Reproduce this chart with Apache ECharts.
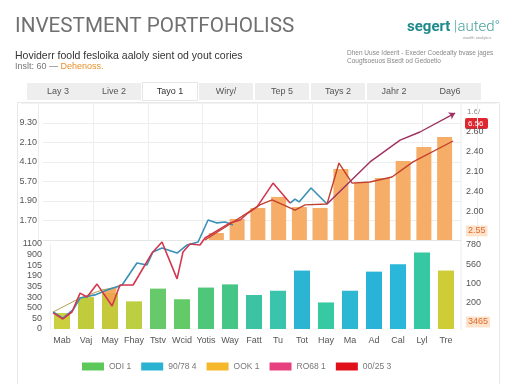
<!DOCTYPE html>
<html><head><meta charset="utf-8">
<script src="https://cdn.jsdelivr.net/npm/echarts@6/dist/echarts.min.js"></script>
<style>html,body{margin:0;padding:0;background:#fff}#c{width:512px;height:384px}</style>
</head><body><div id="c"></div>
<script>
// ---- data ----
const tabs = ['Lay 3','Live 2','Tayo 1','Wiry/','Tep 5','Tays 2','Jahr 2','Day6'];
const months = ['Mab','Vaj','May','Fhay','Tstv','Wcid','Yotis','Way','Fatt','Tu','Tot','Hay','Ma','Ad','Cal','Lyl','Tre'];
const lowerValues = [1.5,3.0,3.4,2.6,3.8,2.8,3.9,4.2,3.2,3.6,5.5,2.5,3.6,5.4,6.1,7.2,5.5];
const lowerColors = ['#cbd03e','#c0cc3c','#c6c93b','#bccf42','#66c96a','#62cb68','#4ec77b','#45c586','#3bc3a4','#39c4ab','#2bb5d3','#37c9a2','#2cb8d2','#29b3d8','#2bb7d9','#35c8a3','#cfcd37'];
const upperSlots = ['s1','s2','s3','s4','s5','s6','s7','s8','s9','s10','s11','s12'];
const upperValues = [0.36,1.08,1.64,2.21,1.69,1.64,3.64,2.97,3.18,4.05,4.77,5.28];
const upperLeftTicks = ['','1.70','1.90','5.70','4.10','2.10','9.30'];
const upperRightTicks = ['2.55','2.00','2.40','2.10','2.40','2.60'];
const lowerLeftTicks = ['0','50','500','300','305','190','105','900','1100'];
const lowerRightTicks = ['3465','200','100','560','780'];
const tealLine = [[0.13,8.0],[0.54,5.3],[0.96,8.9],[1.26,14.2],[1.88,15.6],[2.39,17.8],[3.02,20.0],[3.64,29.8],[4.06,28.9],[4.31,34.7],[4.69,36.4],[5.32,34.2],[5.74,37.8],[6.20,39.1],[6.62,48.9],[6.99,47.6],[7.33,48.0],[7.66,46.7],[8.5,'-'],[10.05,56.4],[10.26,58.2],[10.43,56.9],[10.93,63.1],[11.60,56.0]];
const crimsonLine = [[0.13,7.6],[0.54,4.9],[0.92,8.0],[1.26,16.4],[1.55,14.7],[1.97,20.4],[2.60,10.7],[2.93,20.0],[3.48,20.0],[4.27,34.2],[4.69,39.1],[5.32,22.7],[5.57,34.7],[5.86,38.2],[6.28,37.8],[6.49,40.9],[7.54,47.6],[7.96,48.9],[8.29,52.0],[8.67,54.7],[9.34,65.3],[10.05,56.4]];
const magentaLine = [[11.60,56.0],[13.40,74.7],[14.66,84.4],[15.49,88.0],[16.96,96.4]];
const brownLine = [[6.49,40.0],[7.54,47.1],[8.79,55.6],[9.30,57.8],[10.26,53.3],[10.68,55.6],[11.60,56.0],[12.10,74.2],[12.65,65.3],[13.40,65.8],[14.32,68.0],[15.20,74.7],[16.88,84.0]];
const oliveLine = [[0.13,8.0],[1.26,14.2],[2.18,17.8],[2.81,19.1],[3.02,20.0]];
const orangeArea = [[2.14,17.3],[2.81,19.1],[2.60,10.7]];
const legendNames = ['ODI 1','90/78 4','OOK 1','RO68 1','00/25 3'];
const legendColors = ['#5dc85a','#2ab3d0','#f5b82a','#e6407f','#e0101a'];

// ---- chart ----
const FONT = 'Liberation Sans';
const chart = echarts.init(document.getElementById('c'), null, {renderer:'canvas'});
const hiddenCat = (gi, data) => ({type:'category', gridIndex:gi, data:data, show:false});
const hiddenVal = (gi, min, max) => ({type:'value', gridIndex:gi, min:min, max:max, show:false});
const lbl = {fontFamily:FONT, fontSize:9, color:'#555'};

const option = {
  backgroundColor:'#ffffff',
  animation:false,
  grid:[
    {left:30, right:34, top:103, height:137},      // 0 tabs
    {left:38, right:35, top:103, height:137},      // 1 vertical split lines
    {left:43, right:51, top:123, bottom:144},      // 2 upper value axis
    {left:206, right:57, top:123, bottom:144},     // 3 upper bars
    {left:43, right:50, top:132, bottom:153},      // 4 upper right axis
    {left:50, right:54, top:244, bottom:55},       // 5 lower bars
    {left:43, right:50, top:245, bottom:62},       // 6 lower right axis
    {left:50, right:56, top:105, bottom:54}        // 7 overlay lines
  ],
  xAxis:[
    {type:'category', gridIndex:0, data:tabs, position:'top',
      axisLine:{show:false}, axisTick:{show:false}, splitLine:{show:false},
      axisLabel:{margin:3, interval:0,
        formatter:(v,i)=> i===2 ? '{a|'+v+'}' : ((i===0||i===7) ? '{w|'+v+'}' : '{n|'+v+'}'),
        rich:{
          n:{fontFamily:FONT, fontSize:9, color:'#555', backgroundColor:'#eeeeee', width:54, height:17, lineHeight:17, align:'center'},
          w:{fontFamily:FONT, fontSize:9, color:'#555', backgroundColor:'#eeeeee', width:62, height:17, lineHeight:17, align:'center'},
          a:{fontFamily:FONT, fontSize:9, color:'#333', backgroundColor:'#ffffff', borderColor:'#e6e6e6', borderWidth:1, width:54, height:17, lineHeight:17, align:'center'}
        }}},
    {type:'category', gridIndex:1, data:tabs, axisLine:{show:false}, axisTick:{show:false}, axisLabel:{show:false},
      splitLine:{show:true, interval:0, lineStyle:{color:'#eeeeee', width:1}}},
    {type:'category', gridIndex:2, data:upperSlots, axisTick:{show:false}, axisLabel:{show:false},
      axisLine:{show:true, lineStyle:{color:'#e6e6e6'}}},
    hiddenCat(3, upperSlots),
    hiddenCat(4, upperSlots),
    {type:'category', gridIndex:5, data:months, axisTick:{show:false}, axisLine:{show:false},
      axisLabel:Object.assign({margin:7, interval:0}, lbl)},
    hiddenCat(6, upperSlots),
    {type:'value', gridIndex:7, min:0, max:17, show:false}
  ],
  yAxis:[
    hiddenVal(0,0,1),
    hiddenVal(1,0,1),
    {type:'value', gridIndex:2, min:0, max:6, interval:1, axisLine:{show:false}, axisTick:{show:false},
      splitLine:{show:true, lineStyle:{color:'#ededed'}},
      axisLabel:Object.assign({margin:6, formatter:(v)=>upperLeftTicks[Math.round(v)]}, lbl)},
    hiddenVal(3,0,6),
    {type:'value', gridIndex:4, position:'right', min:0, max:5, interval:1, axisLine:{show:false}, axisTick:{show:false},
      splitLine:{show:false},
      axisLabel:Object.assign({margin:4, align:'left', formatter:(v)=>{const i=Math.round(v); return i===0 ? '{b|'+upperRightTicks[i]+'}' : upperRightTicks[i];},
        rich:{b:{fontFamily:FONT, fontSize:9, color:'#e06a2c', backgroundColor:'#fde2cc', padding:[1,2,1,2]}}}, lbl)},
    {type:'value', gridIndex:5, min:0, max:8, interval:1, axisLine:{show:true, lineStyle:{color:'#efefef'}}, axisTick:{show:false},
      splitLine:{show:false},
      axisLabel:Object.assign({margin:8, formatter:(v)=>lowerLeftTicks[Math.round(v)]}, lbl)},
    {type:'value', gridIndex:6, position:'right', min:0, max:4, interval:1, axisLine:{show:false}, axisTick:{show:false},
      splitLine:{show:false},
      axisLabel:Object.assign({margin:4, align:'left', formatter:(v)=>{const i=Math.round(v); return i===0 ? '{b|'+lowerRightTicks[i]+'}' : lowerRightTicks[i];},
        rich:{b:{fontFamily:FONT, fontSize:9, color:'#e06a2c', backgroundColor:'#fde2cc', padding:[1,2,1,2]}}}, lbl)},
    {type:'value', gridIndex:7, min:0, max:100, show:false}
  ],
  legend:{
    left:77, top:357, itemWidth:22, itemHeight:8, itemGap:10, icon:'rect',
    textStyle:{fontFamily:FONT, fontSize:8.5, color:'#777'},
    data: legendNames.map((n,i)=>({name:n, icon:'rect', itemStyle:{color:legendColors[i]}, lineStyle:{width:0}}))
  },
  series:[
    {name:'OOK 1', type:'bar', xAxisIndex:3, yAxisIndex:3, barWidth:15, itemStyle:{color:'#f5b82a'},
      data: upperValues.map(v=>({value:v, itemStyle:{color:'#f6ad68'}}))},
    {name:'ODI 1', type:'bar', xAxisIndex:5, yAxisIndex:5, barWidth:16, itemStyle:{color:'#5dc85a'},
      data: lowerValues.map((v,i)=>({value:v, itemStyle:{color:lowerColors[i]}}))},
    {type:'custom', xAxisIndex:7, yAxisIndex:7, z:4, data:orangeArea,
      renderItem:(params, api)=>{
        if (params.dataIndex !== 0) return {type:'group', children:[]};
        return {type:'polygon', shape:{points:orangeArea.map(p=>api.coord(p))}, style:{fill:'rgba(242,162,80,0.9)'}};
      }},
    {name:'olive', type:'line', xAxisIndex:7, yAxisIndex:7, z:5, data:oliveLine, symbol:'none',
      lineStyle:{color:'#b3a24c', width:1}},
    {name:'90/78 4', type:'line', xAxisIndex:7, yAxisIndex:7, z:6, data:tealLine, symbol:'none',
      itemStyle:{color:'#2ab3d0'}, lineStyle:{color:'#3a90b6', width:1.6}},
    {name:'RO68 1', type:'line', xAxisIndex:7, yAxisIndex:7, z:6, data:crimsonLine, symbol:'none',
      itemStyle:{color:'#e6407f'}, lineStyle:{color:'#d3374f', width:1.6}},
    {name:'00/25 3', type:'line', xAxisIndex:7, yAxisIndex:7, z:6, data:brownLine, symbol:'none',
      itemStyle:{color:'#e0101a'}, lineStyle:{color:'#c2402e', width:1.4}},
    {name:'magenta', type:'line', xAxisIndex:7, yAxisIndex:7, z:6, symbol:'none',
      data: magentaLine.map((p,i)=> i===magentaLine.length-1 ? {value:p, symbol:'arrow', symbolSize:6, symbolRotate:-62, itemStyle:{color:'#9e2f63'}} : p),
      showSymbol:true,
      lineStyle:{color:'#a0305f', width:1.4}}
  ],
  graphic:[
    {type:'rect', left:15, top:100, shape:{width:482, height:283}, style:{fill:'none', stroke:'#e8e8e8', lineWidth:1}, silent:true, z:-1},
    {type:'line', shape:{x1:21, y1:103, x2:497, y2:103}, style:{stroke:'#e6e6e6', lineWidth:1}},
    {type:'line', shape:{x1:461, y1:103, x2:461, y2:330}, style:{stroke:'#ececec', lineWidth:1}},
    {type:'text', left:15, top:16, style:{text:'INVESTMENT PORTFOHOLISS', fontFamily:'Roboto', fontSize:20.7, fill:'#707070'}},
    {type:'text', left:15, top:51, style:{text:'Hoviderr foold fesloika aaloly sient od yout cories', fontFamily:FONT, fontSize:10.5, fill:'#333'}},
    {type:'text', left:15, top:62, style:{text:'{g|Inslt: 60 — }{o|Dehenoss.}', rich:{g:{fontFamily:FONT, fontSize:9, fill:'#777'}, o:{fontFamily:FONT, fontSize:9, fill:'#e8902a'}}}},
    {type:'text', left:407, top:20, style:{text:'{a|segert}{b| |auted°}', rich:{a:{fontFamily:'Roboto', fontSize:15, fontWeight:'bold', fill:'#1f8a8c'}, b:{fontFamily:'Roboto', fontSize:15, fontWeight:300, fill:'#4a9fa0'}}}},
    {type:'text', left:463, top:36, style:{text:'wealth analytics', fontFamily:FONT, fontSize:4, fill:'#999'}},
    {type:'text', left:347, top:50, style:{text:'Dhen Uuse Ideerit - Exeder Coedealty bvase jages', fontFamily:FONT, fontSize:6.5, fill:'#888'}},
    {type:'text', left:347, top:58, style:{text:'Cougfsoeuos Bsedt od Gedoetio', fontFamily:FONT, fontSize:6.5, fill:'#888'}},
    {type:'text', left:467, top:108, style:{text:'1.6/', fontFamily:FONT, fontSize:8, fill:'#888'}},
    {type:'rect', left:465, top:118, shape:{width:23, height:11, r:2}, style:{fill:'#e0262f'}},
    {type:'text', left:468, top:119.5, style:{text:'6.56', fontFamily:FONT, fontSize:8, fill:'#fff'}}
  ]
};
chart.setOption(option);
</script>
</body></html>
